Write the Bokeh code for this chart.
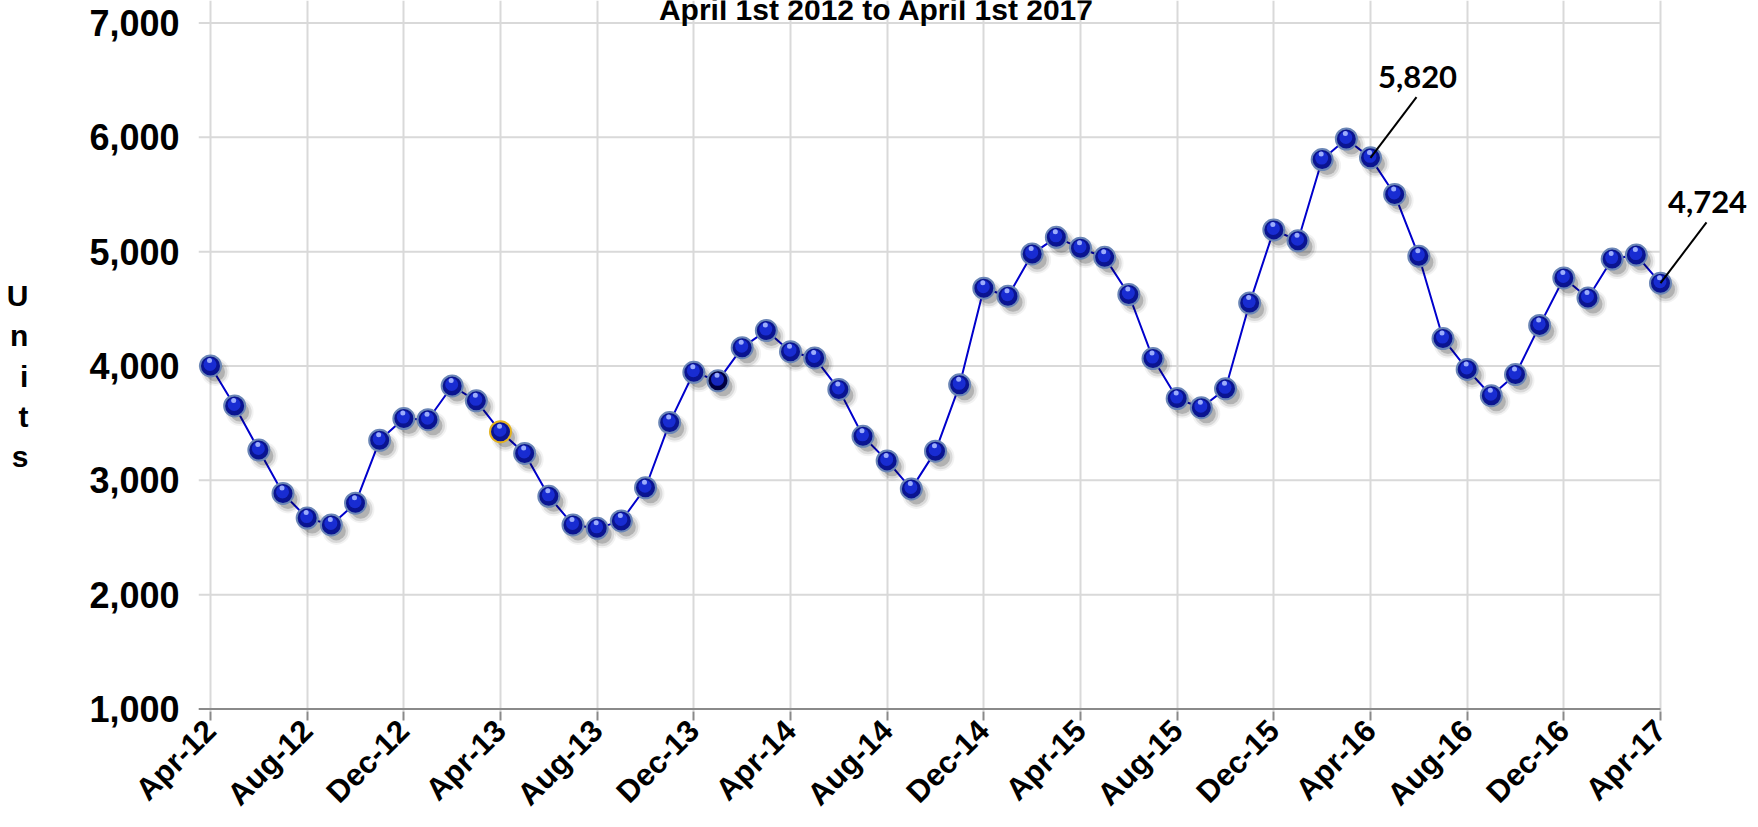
import numpy as np
from bokeh.plotting import figure
from bokeh.models import FixedTicker, Label, Range1d, NumeralTickFormatter, ColumnDataSource, Arrow
from bokeh.embed import file_html
from bokeh.resources import INLINE

# ---------------- data ----------------
months = [
    "Apr-12", "May-12", "Jun-12", "Jul-12", "Aug-12", "Sep-12", "Oct-12", "Nov-12", "Dec-12",
    "Jan-13", "Feb-13", "Mar-13", "Apr-13", "May-13", "Jun-13", "Jul-13", "Aug-13", "Sep-13",
    "Oct-13", "Nov-13", "Dec-13",
    "Jan-14", "Feb-14", "Mar-14", "Apr-14", "May-14", "Jun-14", "Jul-14", "Aug-14", "Sep-14",
    "Oct-14", "Nov-14", "Dec-14",
    "Jan-15", "Feb-15", "Mar-15", "Apr-15", "May-15", "Jun-15", "Jul-15", "Aug-15", "Sep-15",
    "Oct-15", "Nov-15", "Dec-15",
    "Jan-16", "Feb-16", "Mar-16", "Apr-16", "May-16", "Jun-16", "Jul-16", "Aug-16", "Sep-16",
    "Oct-16", "Nov-16", "Dec-16",
    "Jan-17", "Feb-17", "Mar-17", "Apr-17",
]
units = [
    4000, 3650, 3265, 2885, 2670, 2610, 2800, 3350, 3540,
    3530, 3825, 3695, 3425, 3235, 2860, 2610, 2580, 2645, 2935, 3505, 3945,
    3870, 4160, 4310, 4125, 4070, 3795, 3385, 3170, 2925, 3255, 3835, 4680,
    4610, 4980, 5125, 5030, 4950, 4625, 4065, 3715, 3635, 3800, 4550, 5190,
    5095, 5805, 5985, 5820, 5500, 4960, 4240, 3970, 3740, 3925, 4355, 4770,
    4595, 4935, 4970, 4724,
]
tick_months = ["Apr-12", "Aug-12", "Dec-12", "Apr-13", "Aug-13", "Dec-13", "Apr-14", "Aug-14",
               "Dec-14", "Apr-15", "Aug-15", "Dec-15", "Apr-16", "Aug-16", "Dec-16", "Apr-17"]
y_ticks = [1000, 2000, 3000, 4000, 5000, 6000, 7000]
callout_months = ["Apr-16", "Apr-17"]
callout_texts = ["5,820", "4,724"]
title_text = "April 1st 2012 to April 1st 2017"
y_label = "Units"
gold_month = "Apr-13"
dark_month = "Jan-14"

# ---------------- geometry (pixels) ----------------
W, H = 1758, 827
X0_PX, X1_PX = 210, 1660      # first / last month
Y1_PX, Y0_PX = 22.5, 710.5    # top / bottom tick value
PAD_L, PAD_B = 12, 2.5

x = list(range(len(months)))
xmax = len(months) - 1
ux = xmax / (X1_PX - X0_PX)                               # data per px (x)
uy = (max(y_ticks) - min(y_ticks)) / (Y0_PX - Y1_PX)      # data per px (y)

frame_left = X0_PX - PAD_L
frame_bottom = Y0_PX + PAD_B
x_start = -PAD_L * ux
x_end = xmax + (W - X1_PX) * ux
y_start = min(y_ticks) - PAD_B * uy
y_end = max(y_ticks) + Y1_PX * uy          # frame reaches the top edge of the canvas

p = figure(width=W, height=H, output_backend="svg", toolbar_location=None,
           x_range=Range1d(x_start, x_end), y_range=Range1d(y_start, y_end),
           min_border_left=int(round(frame_left)), min_border_right=0,
           min_border_top=0, min_border_bottom=int(round(H - frame_bottom)))
p.outline_line_color = None
p.background_fill_color = "white"
p.border_fill_color = "white"

tick_idx = [months.index(m) for m in tick_months]
p.xaxis.ticker = FixedTicker(ticks=tick_idx)
p.xaxis.major_label_overrides = {i: months[i] for i in tick_idx}
p.xaxis.major_label_orientation = np.pi / 4
p.yaxis.ticker = FixedTicker(ticks=y_ticks)
p.yaxis.formatter = NumeralTickFormatter(format="0,0")
p.xgrid.ticker = FixedTicker(ticks=tick_idx)
p.xgrid.grid_line_color = "#d9d9d9"
p.xgrid.grid_line_width = 2
p.xgrid.bounds = (min(y_ticks), max(y_ticks))
p.ygrid.grid_line_color = None

# horizontal grid lines, from the y ticks, limited to the month span (+ short stub on the left)
p.segment(x0=[x_start] * len(y_ticks), x1=[xmax] * len(y_ticks), y0=y_ticks, y1=y_ticks,
          line_color="#d9d9d9", line_width=2, level="underlay")
# x axis line
p.segment(x0=[x_start], x1=[xmax], y0=[min(y_ticks)], y1=[min(y_ticks)],
          line_color="#8a8a8a", line_width=2)

for ax in (p.xaxis, p.yaxis):
    ax.minor_tick_line_color = None
    ax.major_tick_in = 0
    ax.axis_line_color = None
    ax.major_label_text_font = "Liberation Sans"
    ax.major_label_text_font_style = "bold"
    ax.major_label_text_color = "black"

p.yaxis.major_tick_line_color = None
p.yaxis.major_tick_out = 0
p.yaxis.major_label_text_font_size = "36px"
p.yaxis.major_label_standoff = 19
p.yaxis.axis_label = " \n" + "\n".join(y_label)
p.yaxis.axis_label_orientation = "horizontal"
p.yaxis.axis_label_text_font = "Liberation Sans"
p.yaxis.axis_label_text_font_style = "bold"
p.yaxis.axis_label_text_font_size = "30px"
p.yaxis.axis_label_text_line_height = 1.22
p.yaxis.axis_label_text_color = "black"
p.yaxis.axis_label_standoff = 58

p.xaxis.major_tick_line_color = "#8a8a8a"
p.xaxis.major_tick_line_width = 2
p.xaxis.major_tick_out = 9
p.xaxis.major_label_text_font_size = "31px"
p.xaxis.major_label_standoff = 5

# ---------------- series ----------------
src = ColumnDataSource(dict(x=x, y=units))
p.line("x", "y", source=src, line_color="#0000cc", line_width=2)

# soft drop shadow
sh = ColumnDataSource(dict(x=[v + 5 * ux for v in x], y=[v - 6 * uy for v in units]))
p.scatter("x", "y", source=sh, size=28, fill_color="black", fill_alpha=0.05, line_color=None)
p.scatter("x", "y", source=sh, size=24, fill_color="black", fill_alpha=0.10, line_color=None)
p.scatter("x", "y", source=sh, size=19, fill_color="black", fill_alpha=0.18, line_color=None)

edge = ["#e3b21e" if m == gold_month else "#6b86b6" for m in months]
base = ["#000040" if m == dark_month else "#0a1490" for m in months]
ball = ColumnDataSource(dict(x=x, y=units, edge=edge, base=base))
p.scatter("x", "y", source=ball, size=21, fill_color="base", line_color="edge", line_width=2)
mid = ColumnDataSource(dict(x=[v - 0.5 * ux for v in x], y=[v + 1.5 * uy for v in units]))
p.scatter("x", "y", source=mid, size=13, fill_color="#1e34e8", fill_alpha=0.75, line_color=None)
hl = ColumnDataSource(dict(x=[v - 1 * ux for v in x], y=[v + 5.5 * uy for v in units]))
p.scatter("x", "y", source=hl, size=5, fill_color="#aabaff", fill_alpha=0.9, line_color=None)

# ---------------- callouts ----------------
for m, t in zip(callout_months, callout_texts):
    i = months.index(m)
    xi, yi = x[i], units[i]
    p.add_layout(Arrow(end=None, x_start=xi, y_start=yi,
                       x_end=xi + 46 * ux, y_end=yi + 61 * uy,
                       line_color="black", line_width=2))
    p.add_layout(Label(x=xi, y=yi, x_offset=47, y_offset=81, text=t,
                       text_align="center", text_baseline="middle",
                       text_font="Lato", text_font_style="bold",
                       text_font_size="31px", text_color="black"))

# ---------------- title (cut at the top edge, as in the reference) ----------------
p.add_layout(Label(x=(876 - X0_PX) * ux, y=max(y_ticks), y_offset=13, text=title_text,
                   text_align="center", text_baseline="alphabetic",
                   text_font="Liberation Sans", text_font_style="bold",
                   text_font_size="30px", text_color="black"))

open("out.html", "w").write(file_html(p, INLINE))
